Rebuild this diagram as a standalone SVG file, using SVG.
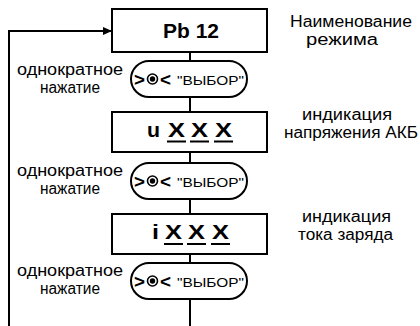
<svg xmlns="http://www.w3.org/2000/svg" width="420" height="326" viewBox="0 0 420 326">
<style>
.box{fill:#fff;stroke:#000;stroke-width:2}
.pill{fill:#fff;stroke:#000;stroke-width:2}
.ln{fill:none;stroke:#000;stroke-width:2}
.lab{font-family:"Liberation Sans",Arial,sans-serif;font-size:16px;fill:#000}
.disp{font-family:"Liberation Sans",Arial,sans-serif;font-size:21px;font-weight:bold;fill:#000}
.sym{font-family:"Liberation Sans",Arial,sans-serif;font-size:19px;font-weight:bold;fill:#000}
.sel{font-family:"Liberation Sans",Arial,sans-serif;font-size:13px;fill:#000}
.ul{stroke:#000;stroke-width:2}
</style>
<defs>
<marker id="ah" markerWidth="10" markerHeight="10" refX="9" refY="5" orient="auto" markerUnits="userSpaceOnUse">
<path d="M0,1 L9,5 L0,9 Z" fill="#000"/>
</marker>
<g id="btn">
<rect x="131" y="0" width="116" height="36" rx="18" ry="18" class="pill"/>
<text x="134" y="24.5" class="sym" textLength="11" lengthAdjust="spacingAndGlyphs">&gt;</text>
<circle cx="152.5" cy="18" r="5" fill="none" stroke="#000" stroke-width="1.6"/>
<circle cx="152.5" cy="18" r="2.7" fill="#000"/>
<text x="160" y="24.5" class="sym" textLength="11" lengthAdjust="spacingAndGlyphs">&lt;</text>
<text x="177" y="23.5" class="sel" textLength="67" lengthAdjust="spacingAndGlyphs">"ВЫБОР"</text>
</g>
</defs>
<g id="connectors">
<line x1="190" y1="52" x2="190" y2="61" class="ln"/>
<line x1="190" y1="97" x2="190" y2="112" class="ln"/>
<line x1="190" y1="152" x2="190" y2="163" class="ln"/>
<line x1="190" y1="199" x2="190" y2="214" class="ln"/>
<line x1="190" y1="254" x2="190" y2="263" class="ln"/>
<line x1="190" y1="299" x2="190" y2="326" class="ln"/>
<path d="M9,326 V31 H112" class="ln" marker-end="url(#ah)"/>
</g>
<g id="mode">
<rect x="112" y="9" width="155" height="43" class="box"/>
<text x="163" y="38" class="disp" textLength="56" lengthAdjust="spacingAndGlyphs">Pb 12</text>
</g>
<g id="mode-label">
<text x="290" y="27" class="lab" textLength="122" lengthAdjust="spacingAndGlyphs">Наименование</text>
<text x="306" y="45" class="lab" textLength="72" lengthAdjust="spacingAndGlyphs">режима</text>
</g>
<g id="press1">
<use href="#btn" y="61"/>
<text x="17" y="75" class="lab" textLength="106" lengthAdjust="spacingAndGlyphs">однократное</text>
<text x="40" y="93" class="lab" textLength="60" lengthAdjust="spacingAndGlyphs">нажатие</text>
</g>
<g id="voltage">
<rect x="112" y="112" width="155" height="40" class="box"/>
<text x="147" y="137" class="disp" textLength="13" lengthAdjust="spacingAndGlyphs">u</text>
<text x="168" y="137" class="disp" textLength="17" lengthAdjust="spacingAndGlyphs">X</text>
<text x="191" y="137" class="disp" textLength="17" lengthAdjust="spacingAndGlyphs">X</text>
<text x="215" y="137" class="disp" textLength="17" lengthAdjust="spacingAndGlyphs">X</text>
<line x1="167" y1="141.5" x2="186" y2="141.5" class="ul"/>
<line x1="190" y1="141.5" x2="209" y2="141.5" class="ul"/>
<line x1="214" y1="141.5" x2="233" y2="141.5" class="ul"/>
</g>
<g id="voltage-label">
<text x="302" y="120" class="lab" textLength="90" lengthAdjust="spacingAndGlyphs">индикация</text>
<text x="284" y="138" class="lab" textLength="134" lengthAdjust="spacingAndGlyphs">напряжения АКБ</text>
</g>
<g id="press2">
<use href="#btn" y="163"/>
<text x="17" y="176" class="lab" textLength="106" lengthAdjust="spacingAndGlyphs">однократное</text>
<text x="40" y="194" class="lab" textLength="60" lengthAdjust="spacingAndGlyphs">нажатие</text>
</g>
<g id="current">
<rect x="112" y="214" width="155" height="40" class="box"/>
<text x="152" y="239" class="disp" textLength="7" lengthAdjust="spacingAndGlyphs">i</text>
<text x="165" y="239" class="disp" textLength="17" lengthAdjust="spacingAndGlyphs">X</text>
<text x="188" y="239" class="disp" textLength="17" lengthAdjust="spacingAndGlyphs">X</text>
<text x="212" y="239" class="disp" textLength="17" lengthAdjust="spacingAndGlyphs">X</text>
<line x1="164" y1="244" x2="183" y2="244" class="ul"/>
<line x1="187" y1="244" x2="206" y2="244" class="ul"/>
<line x1="211" y1="244" x2="230" y2="244" class="ul"/>
</g>
<g id="current-label">
<text x="302" y="222" class="lab" textLength="89" lengthAdjust="spacingAndGlyphs">индикация</text>
<text x="298" y="240" class="lab" textLength="95" lengthAdjust="spacingAndGlyphs">тока заряда</text>
</g>
<g id="press3">
<use href="#btn" y="263"/>
<text x="17" y="276" class="lab" textLength="106" lengthAdjust="spacingAndGlyphs">однократное</text>
<text x="40" y="294" class="lab" textLength="60" lengthAdjust="spacingAndGlyphs">нажатие</text>
</g>
</svg>
